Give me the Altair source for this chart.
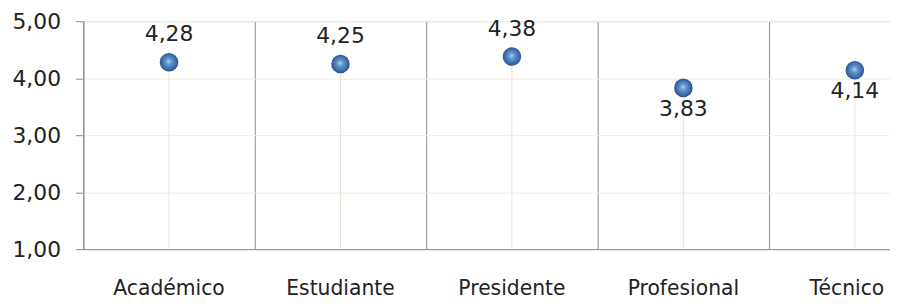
import altair as alt
import pandas as pd

categorias = ["Académico", "Estudiante", "Presidente", "Profesional", "Técnico"]
valores = [4.28, 4.25, 4.38, 3.83, 4.14]
ticks_y = [1, 2, 3, 4, 5]
debajo = ["Profesional", "Técnico"]

df = pd.DataFrame({"categoria": categorias, "valor": valores})
df["etiqueta"] = [f"{v:.2f}".replace(".", ",") for v in valores]

FONT = "DejaVu Sans"
FS = 22

x = alt.X(
    "categoria:N",
    sort=categorias,
    scale=alt.Scale(range=[0, 865], paddingInner=0, paddingOuter=0, round=False),
    axis=alt.Axis(
        title=None,
        labelAngle=0,
        ticks=False,
        grid=True,
        gridColor="#8c8c8c",
        gridWidth=1,
        bandPosition=0,
        domainColor="#8c8c8c",
        labelFont=FONT,
        labelFontSize=20.5,
        labelColor="#222222",
        labelPadding=40,
        labelBaseline="middle",
        labelOffset={
            "condition": {"test": f"datum.value == '{categorias[-1]}'", "value": -8},
            "value": 0,
        },
    ),
)
y_scale = alt.Scale(domain=[1, 5], nice=False, zero=False)
y = alt.Y(
    "valor:Q",
    scale=y_scale,
    axis=alt.Axis(
        title=None,
        values=ticks_y,
        labelExpr="replace(format(datum.value, '.2f'), '.', ',')",
        grid=True,
        gridColor="#efebdf",
        domainColor="#8c8c8c",
        tickColor="#8c8c8c",
        tickSize=8,
        labelPadding=15,
        labelFont=FONT,
        labelFontSize=FS,
        labelColor="#222222",
    ),
)

base = alt.Chart(df)

drop = base.mark_rule(color="#ebe6d6", strokeWidth=1).encode(
    x=x, y=y, y2=alt.datum(1)
)

sphere = base.mark_circle(
    size=350,
    opacity=1,
    color={
        "gradient": "radial",
        "x1": 0.48, "y1": 0.45, "r1": 0,
        "x2": 0.5, "y2": 0.5, "r2": 0.55,
        "stops": [
            {"offset": 0, "color": "#b4d0f0"},
            {"offset": 0.3, "color": "#6495d0"},
            {"offset": 0.75, "color": "#3868a5"},
            {"offset": 1, "color": "#1f4270"},
        ],
    },
).encode(x=x, y=y)

arriba_txt = base.transform_filter(
    alt.FieldOneOfPredicate(field="categoria", oneOf=debajo).__invert__()
).mark_text(font=FONT, fontSize=FS, color="#222222", dy=-28, baseline="middle").encode(
    x=x, y=y, text="etiqueta:N"
)
debajo_txt = base.transform_filter(
    alt.FieldOneOfPredicate(field="categoria", oneOf=debajo)
).mark_text(font=FONT, fontSize=FS, color="#222222", dy=21, baseline="middle").encode(
    x=x, y=y, text="etiqueta:N"
)

chart = (
    alt.layer(drop, sphere, arriba_txt, debajo_txt)
    .properties(
        width=814,
        height=230,
        autosize=alt.AutoSizeParams(type="none"),
        padding={"left": 76, "top": 12, "right": 0, "bottom": 54},
    )
    .configure_view(stroke=None)
    .configure(background="white")
)

chart.save("out.html", embed_options={"renderer": "svg", "actions": False})
